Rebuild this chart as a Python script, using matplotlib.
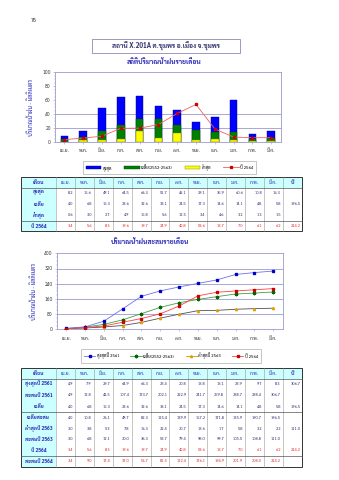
import matplotlib
matplotlib.use('Agg')
import matplotlib.pyplot as plt
from matplotlib.patches import Rectangle
from matplotlib.lines import Line2D
from matplotlib.patches import Patch
import numpy as np

plt.rcParams['font.family'] = ['Sarabun', 'Noto Sans Thai', 'Bai Jamjuree', 'DejaVu Sans']

# ---------------- data ----------------
months = ['เม.ย.', 'พ.ค.', 'มิ.ย.', 'ก.ค.', 'ส.ค.', 'ก.ย.', 'ต.ค.', 'พ.ย.', 'ธ.ค.', 'ม.ค.', 'ก.พ.', 'มี.ค.']
max_all = [8.2, 15.6, 49.1, 64.5, 66.3, 51.7, 46.1, 29.1, 35.9, 60.6, 10.8, 16.3]
mean_all = [4.0, 6.8, 15.3, 23.6, 32.6, 33.1, 24.5, 17.3, 14.6, 14.1, 4.8, 5.8]
min_all = [0.6, 3.0, 2.7, 4.9, 15.8, 5.6, 12.5, 3.4, 4.6, 3.2, 1.3, 1.5]
y2564 = [3.4, 5.6, 8.3, 19.6, 19.7, 24.9, 40.8, 53.6, 18.7, 7.0, 6.1, 6.2]
mean_year = 196.5
y2564_year = 214.2

max2561 = [4.9, 7.9, 29.7, 64.9, 66.3, 28.4, 20.8, 18.8, 18.1, 28.9, 9.7, 8.3]
cum2561 = [4.9, 12.8, 42.5, 107.4, 173.7, 202.1, 222.9, 241.7, 259.8, 288.7, 298.4, 306.7]
mean_cum = [4.0, 10.8, 26.1, 49.7, 82.3, 115.4, 139.9, 157.2, 171.8, 185.9, 190.7, 196.5]
min2563 = [3.0, 3.8, 5.3, 7.8, 16.3, 22.4, 20.7, 18.6, 1.7, 5.8, 3.2, 2.2]
cum2563 = [3.0, 6.8, 12.1, 20.0, 36.3, 58.7, 79.4, 98.0, 99.7, 105.5, 108.8, 111.0]
cum2564 = [3.4, 9.0, 17.4, 37.0, 56.7, 81.5, 122.4, 176.1, 194.9, 201.9, 208.0, 214.2]
max2561_year = 306.7
min2563_year = 111.0

station = 'สถานี X.201A ต.ชุมพร อ.เมือง จ.ชุมพร'
title1 = 'สถิติปริมาณน้ำฝนรายเดือน'
title2 = 'ปริมาณน้ำฝนสะสมรายเดือน'
ylabel = 'ปริมาณน้ำฝน - มิลลิเมตร'

# ---------------- figure ----------------
W, H = 339, 480
fig = plt.figure(figsize=(W / 100, H / 100), dpi=100)
fig.patch.set_facecolor('white')

def fbox(l, t, r, b):
    return [l / W, 1 - b / H, (r - l) / W, (b - t) / H]

# overlay for tables / decorations (pixel coords)
ov = fig.add_axes([0, 0, 1, 1], zorder=0)
ov.set_xlim(0, W)
ov.set_ylim(H, 0)
ov.axis('off')

BLUE_TXT = '#2b2bb8'
NUM_TXT = '#33337a'
RED_TXT = '#e03030'
SPINE = '#9a9ad0'
GRID = '#9a9ad0'

ov.text(34, 20, '76', fontsize=4, color='#333333', ha='center', va='center')
ov.add_patch(Rectangle((92, 38.5), 148, 14.5, fill=False, ec='#8a8ab8', lw=0.6))
ov.text(166, 45.5, station, fontsize=4.8, color='#33336e', ha='center', va='center', fontweight='bold')
ov.text(164, 62, title1, fontsize=4.8, color=BLUE_TXT, ha='center', va='center', fontweight='bold')
ov.text(150, 242, title2, fontsize=4.8, color=BLUE_TXT, ha='center', va='center', fontweight='bold')

x = np.arange(len(months))

def style_axes(ax):
    for s in ax.spines.values():
        s.set_color(SPINE)
        s.set_linewidth(0.6)
    ax.tick_params(axis='both', labelsize=3.6, colors='#333333', length=1.5, width=0.4, pad=1.5)
    ax.tick_params(axis='y', which='minor', length=1, width=0.3, colors=SPINE)
    ax.tick_params(axis='y', which='major', colors=SPINE, labelcolor='#333333')
    ax.tick_params(axis='x', colors=SPINE, labelcolor='#333333', pad=3)
    ax.set_xticks(x)
    ax.set_xticklabels(months)
    ax.set_xlim(-0.5, len(months) - 0.5)

# ---------------- top chart ----------------
ax1 = fig.add_axes(fbox(55, 72, 280.6, 142), zorder=2)
bw = 0.41
ax1.bar(x, max_all, bw, color='#0000ff', edgecolor='#000080', lw=0.3, zorder=2)
ax1.bar(x, mean_all, bw, color='#008000', edgecolor='#004000', lw=0.3, zorder=3)
ax1.bar(x, min_all, bw, color='#ffff00', edgecolor='#808000', lw=0.3, zorder=4)
ax1.plot(x, y2564, color='#f06060', lw=0.6, marker='s', ms=1.4, mfc='#cc0000', mec='#cc0000', zorder=5)
ax1.set_ylim(0, 100)
ax1.set_yticks([0, 20, 40, 60, 80, 100])
ax1.set_yticks(np.arange(0, 101, 5), minor=True)
for g in [20, 40]:
    ax1.axhline(g, color=GRID, lw=0.6, zorder=1)
style_axes(ax1)
ax1.set_ylabel(ylabel, fontsize=4.2, color=BLUE_TXT, labelpad=6)

leg1 = [Patch(fc='#0000ff', ec='#000080', lw=0.3), Patch(fc='#008000', ec='#004000', lw=0.3),
        Patch(fc='#ffff00', ec='#808000', lw=0.3),
        Line2D([], [], color='#f06060', lw=0.6, marker='s', ms=1.4, mfc='#cc0000', mec='#cc0000')]
L1 = fig.legend(leg1, ['สูงสุด', 'เฉลี่ย(2552-2563)', 'ต่ำสุด', 'ปี 2564'], ncol=4,
                loc='center', bbox_to_anchor=(169.5 / W, 1 - 167.5 / H), fontsize=3.1,
                frameon=True, fancybox=False, edgecolor='#999999', borderpad=0.7,
                handlelength=3.6, handleheight=0.9, columnspacing=2.8, handletextpad=0.3,
                borderaxespad=0)
L1.get_frame().set_linewidth(0.5)

# ---------------- table drawing ----------------
TL, FC, TR = 21, 56, 302
YC = 282.8
mw = (YC - FC) / 12

def draw_table(top, header_bot, bottom, seps, rows):
    ov.add_patch(Rectangle((TL, top), TR - TL, header_bot - top, fc='#ccffff', ec='none'))
    ov.add_patch(Rectangle((TL, header_bot), FC - TL, bottom - header_bot, fc='#ccffff', ec='none'))
    xs = [FC + mw * i for i in range(13)]
    for xv in xs:
        ov.plot([xv, xv], [top, bottom], color='#999999', lw=0.4)
    for yv in [header_bot] + seps:
        ov.plot([TL, TR], [yv, yv], color='#555555', lw=0.5)
    ov.add_patch(Rectangle((TL, top), TR - TL, bottom - top, fill=False, ec='#333333', lw=0.7))
    hy = (top + header_bot) / 2
    ov.text((TL + FC) / 2, hy, 'เดือน', fontsize=3.8, color=BLUE_TXT, ha='center', va='center', fontweight='bold')
    for i, m in enumerate(months):
        ov.text(FC + mw * (i + 0.5), hy, m, fontsize=3.6, color=BLUE_TXT, ha='center', va='center')
    ov.text((YC + TR) / 2, hy, 'ปี', fontsize=3.8, color=BLUE_TXT, ha='center', va='center', fontweight='bold')
    for (ry, label, vals, yearv, col) in rows:
        ov.text((TL + FC) / 2, ry, label, fontsize=3.6, color=BLUE_TXT, ha='center', va='center', fontweight='bold')
        if vals is not None:
            for i, v in enumerate(vals):
                ov.text(FC + mw * (i + 1) - 2, ry, '%.1f' % v, fontsize=3.0, color=col, ha='right', va='center')
        if yearv is not None:
            ov.text(TR - 1.5, ry, '%.1f' % yearv, fontsize=3.0, color=col, ha='right', va='center')

draw_table(177.3, 188.3, 231, [220.7], [
    (192.5, 'สูงสุด', max_all, None, NUM_TXT),
    (204, 'เฉลี่ย', mean_all, mean_year, NUM_TXT),
    (215.5, 'ต่ำสุด', min_all, None, NUM_TXT),
    (226, 'ปี 2564', y2564, y2564_year, RED_TXT),
])

# ---------------- bottom chart ----------------
ax2 = fig.add_axes(fbox(56.7, 253.3, 282.7, 329.3), zorder=2)
ax2.plot(x, cum2561, color='#7070f0', lw=0.6, marker='s', ms=1.6, mfc='#0000cc', mec='#0000cc', zorder=5)
ax2.plot(x, mean_cum, color='#40a040', lw=0.6, marker='P', ms=1.8, mfc='#006600', mec='#006600', zorder=4)
ax2.plot(x, cum2563, color='#505050', lw=0.6, marker='^', ms=1.6, mfc='#ffc000', mec='#e0a000', zorder=3)
ax2.plot(x, cum2564, color='#ff4040', lw=0.6, marker='s', ms=1.6, mfc='#cc0000', mec='#cc0000', zorder=6)
ax2.set_ylim(0, 400)
ax2.set_yticks([0, 80, 160, 240, 320, 400])
ax2.set_yticks(np.arange(0, 401, 20), minor=True)
for g in [80, 160, 240, 320]:
    ax2.axhline(g, color=GRID, lw=0.6, zorder=1)
style_axes(ax2)
ax2.set_ylabel(ylabel, fontsize=4.2, color=BLUE_TXT, labelpad=5)

leg2 = [Line2D([], [], color='#7070f0', lw=0.6, marker='s', ms=1.6, mfc='#0000cc', mec='#0000cc'),
        Line2D([], [], color='#40a040', lw=0.6, marker='P', ms=1.8, mfc='#006600', mec='#006600'),
        Line2D([], [], color='#c0a000', lw=0.6, marker='^', ms=1.6, mfc='#ffc000', mec='#e0a000'),
        Line2D([], [], color='#ff4040', lw=0.6, marker='s', ms=1.6, mfc='#cc0000', mec='#cc0000')]
L2 = fig.legend(leg2, ['สูงสุดปี 2561', 'เฉลี่ย(2552-2563)', 'ต่ำสุดปี 2563', 'ปี 2564'], ncol=4,
                loc='center', bbox_to_anchor=(171 / W, 1 - 356 / H), fontsize=3.1,
                frameon=True, fancybox=False, edgecolor='#999999', borderpad=0.8,
                handlelength=2.6, columnspacing=2.6, handletextpad=0.3, borderaxespad=0)
L2.get_frame().set_linewidth(0.5)

draw_table(368.3, 379, 466.7, [412.3, 456], [
    (384, 'สูงสุดปี 2561', max2561, max2561_year, NUM_TXT),
    (395.5, 'สะสมปี 2561', cum2561, None, NUM_TXT),
    (406.5, 'เฉลี่ย', mean_all, mean_year, NUM_TXT),
    (417.7, 'เฉลี่ยสะสม', mean_cum, None, NUM_TXT),
    (428.7, 'ต่ำสุดปี 2563', min2563, min2563_year, NUM_TXT),
    (439.3, 'สะสมปี 2563', cum2563, None, NUM_TXT),
    (450.3, 'ปี 2564', y2564, y2564_year, RED_TXT),
    (461.5, 'สะสมปี 2564', cum2564, None, RED_TXT),
])

fig.savefig('out.png', dpi=100, facecolor='white')
